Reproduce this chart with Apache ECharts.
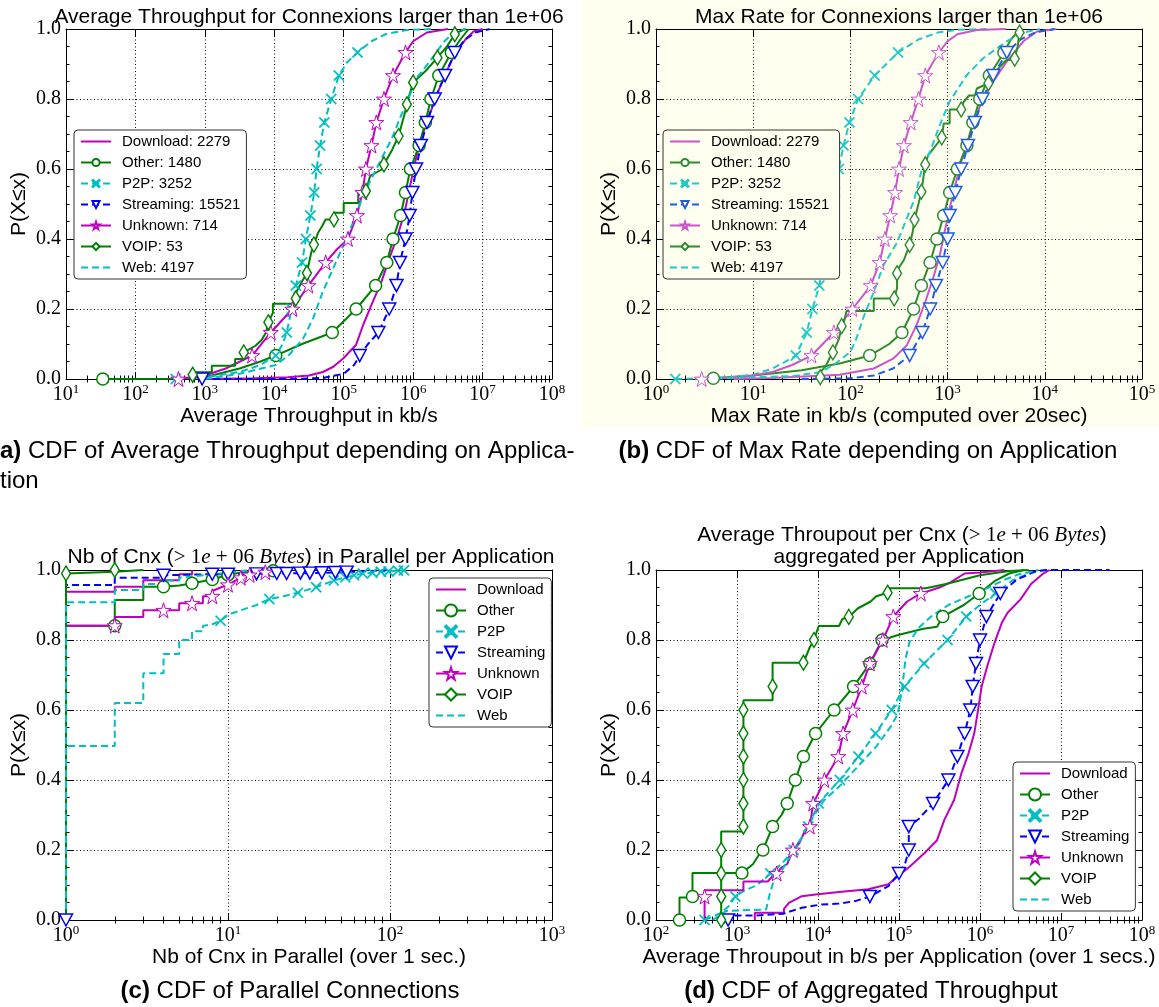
<!DOCTYPE html>
<html><head><meta charset="utf-8">
<script src="https://cdn.jsdelivr.net/npm/echarts@6/dist/echarts.min.js"></script>
<style>html,body{margin:0;padding:0;background:#fff}#c{width:1159px;height:1007px}</style>
</head><body><div id="c"></div>
<script>
// ---------------- DATA ----------------
const NAMES_AB = ['Download: 2279','Other: 1480','P2P: 3252','Streaming: 15521','Unknown: 714','VOIP: 53','Web: 4197'];
const NAMES_CD = ['Download','Other','P2P','Streaming','Unknown','VOIP','Web'];
const X_RANGE_A = [1e1, 1e8], X_RANGE_B = [1e0, 1e5], X_RANGE_C = [1e0, 1e3], X_RANGE_D = [1e2, 1e8];
const Y_TICKS = [0, 0.2, 0.4, 0.6, 0.8, 1.0];

// Panel (a): Average Throughput (kb/s)
const A_DOWNLOAD = [[1e3,0],[5.01e3,0.002],[1.58e4,0.005],[3.16e4,0.01],[5.01e4,0.02],[7.08e4,0.035],[1e5,0.06],[1.51e5,0.098],[1.91e5,0.155],[2.51e5,0.212],[3.51e5,0.279],[4.57e5,0.346],[6.03e5,0.412],[7.59e5,0.479],[8.91e5,0.546],[1.05e6,0.612],[1.26e6,0.679],[1.66e6,0.746],[2.19e6,0.812],[3.02e6,0.879],[4.17e6,0.936],[5.89e6,0.974],[7.41e6,0.993],[1e7,1.0]];
const A_OTHER = [[316,0.001],[1e3,0.005],[3.16e3,0.03],[6.31e3,0.05],[2.51e4,0.1],[4.79e6,0.97],[6.31e6,1.0]];
const A_OTHER_MK = [[33.9,0],[1.05e4,0.067],[6.84e4,0.133],[1.51e5,0.2],[2.88e5,0.267],[4.17e5,0.333],[5.13e5,0.4],[6.61e5,0.467],[7.76e5,0.533],[9.12e5,0.6],[1.22e6,0.667],[1.5e6,0.733],[1.8e6,0.8],[2.34e6,0.867],[3.55e6,0.933]];
const A_P2P = [[1e3,0.005],[3.16e3,0.02],[6.31e3,0.04],[1.32e4,0.1],[1.12e5,0.905],[2.51e5,0.965],[3.98e5,0.985],[7.94e5,0.997],[2e6,1.0]];
const A_P2P_MK = [[380,0],[1.05e4,0.067],[1.51e4,0.133],[1.78e4,0.2],[2.04e4,0.267],[2.51e4,0.333],[2.85e4,0.4],[3.31e4,0.467],[3.76e4,0.533],[4.07e4,0.6],[4.57e4,0.667],[5.25e4,0.733],[6.61e4,0.8],[8.51e4,0.867],[1.58e5,0.933]];
const A_STREAM = [[2e4,0],[5.01e4,0.003],[1e5,0.015],[1.41e5,0.04],[2.24e5,0.1],[5.62e6,0.97],[7.94e6,0.99],[1.26e7,1.0]];
const A_STREAM_MK = [[912,0],[1.7e5,0.067],[3.16e5,0.133],[4.52e5,0.2],[5.75e5,0.267],[6.46e5,0.333],[7.76e5,0.4],[8.91e5,0.467],[9.77e5,0.533],[1.1e6,0.6],[1.29e6,0.667],[1.58e6,0.733],[2.04e6,0.8],[2.88e6,0.867],[3.98e6,0.933]];
const A_UNKNOWN = [[1e3,0.01],[2e3,0.03],[7.94e4,0.37],[1e6,0.965],[1.58e6,0.99],[3.16e6,1.0]];
const A_UNKNOWN_MK = [[417,0],[4.79e3,0.067],[8.91e3,0.133],[1.82e4,0.2],[3.09e4,0.267],[5.5e4,0.333],[1.15e5,0.4],[1.55e5,0.467],[1.86e5,0.533],[2.09e5,0.6],[2.51e5,0.667],[2.95e5,0.733],[3.8e5,0.8],[5.13e5,0.867],[7.76e5,0.933]];
const A_VOIP = [[667,0],[667,0.019],[1260,0.019],[1260,0.038],[2730,0.038],[2730,0.057],[3630,0.057],[3630,0.076],[5370,0.095],[6610,0.112],[7590,0.133],[8220,0.162],[9550,0.189],[9550,0.215],[2.04e4,0.215],[2.04e4,0.246],[2.45e4,0.275],[2.95e4,0.303],[3.39e4,0.36],[3.72e4,0.384],[4.27e4,0.418],[4.9e4,0.437],[5.5e4,0.456],[7.24e4,0.456],[7.24e4,0.475],[1e5,0.475],[1e5,0.503],[1.62e5,0.503],[1.62e5,0.537],[2.09e5,0.537],[2.4e5,0.58],[3.63e5,0.6],[3.89e5,0.618],[5.01e5,0.656],[6.17e5,0.694],[7.59e5,0.76],[8.71e5,0.808],[1e6,0.847],[1.51e6,0.88],[2.24e6,0.918],[3.09e6,0.951],[4.27e6,0.99],[5.75e6,1.0]];
const A_VOIP_MK = [[667,0.012],[3630,0.076],[8220,0.162],[2.04e4,0.23],[2.95e4,0.303],[3.72e4,0.384],[7.24e4,0.456],[2.09e5,0.537],[3.8e5,0.613],[6.17e5,0.694],[8.13e5,0.785],[1e6,0.847],[2.24e6,0.918],[3.98e6,0.985]];
const A_WEB = [[1e3,0],[3.16e3,0.015],[1.05e4,0.04],[1.66e4,0.07],[2.63e4,0.117],[3.63e4,0.174],[5.01e4,0.25],[7.08e4,0.317],[1e5,0.384],[1.38e5,0.45],[1.78e5,0.508],[2.4e5,0.565],[2.95e5,0.6],[5.01e5,0.69],[6.61e5,0.75],[8.51e5,0.8],[1.12e6,0.86],[1.7e6,0.905],[2.82e6,0.965],[3.98e6,0.993],[5.62e6,1.0]];

// Panel (b): Max Rate (kb/s)
const B_DOWNLOAD = [[6.31,0],[15.8,0.003],[77.6,0.012],[174,0.03],[275,0.058],[380,0.096],[479,0.154],[589,0.22],[708,0.287],[832,0.354],[933,0.421],[1050,0.488],[1200,0.554],[1380,0.621],[1620,0.683],[1910,0.74],[2240,0.793],[2950,0.85],[4070,0.907],[6030,0.965],[8320,0.993],[1.32e4,1.0]];
const B_OTHER = [[2.51,0],[10,0.01],[31.6,0.025],[79.4,0.045],[251,0.1],[4470,0.97],[5620,1.0]];
const B_OTHER_MK = [[3.89,0.002],[158,0.067],[339,0.133],[447,0.2],[537,0.267],[661,0.333],[776,0.4],[912,0.467],[1050,0.533],[1260,0.6],[1580,0.667],[1820,0.733],[2140,0.8],[2690,0.867],[3800,0.933]];
const B_P2P = [[3.16,0.002],[6.31,0.006],[10,0.012],[15.8,0.03],[20,0.045],[501,0.97],[794,0.99],[1260,0.998],[2510,1.0]];
const B_P2P_MK = [[1.58,0],[27.5,0.067],[35.5,0.133],[40.7,0.2],[47.9,0.267],[52.5,0.333],[57.5,0.4],[63.1,0.467],[69.2,0.533],[75.9,0.6],[85.1,0.667],[97.7,0.733],[120,0.8],[178,0.867],[309,0.933]];
const B_STREAM = [[31.6,0],[100,0.002],[174,0.01],[275,0.03],[5620,0.97],[7940,0.99],[1.26e4,1.0]];
const B_STREAM_MK = [[407,0.067],[550,0.133],[661,0.2],[759,0.267],[891,0.333],[1000,0.4],[1050,0.467],[1200,0.533],[1380,0.6],[1620,0.667],[1910,0.733],[2290,0.8],[2950,0.867],[4070,0.933]];
const B_UNKNOWN = [[7.94,0.005],[15.8,0.02],[25.1,0.04],[1000,0.965],[1260,0.985],[2000,0.997],[3980,1.0]];
const B_UNKNOWN_MK = [[2.95,0],[39.8,0.067],[67.6,0.133],[105,0.2],[162,0.267],[200,0.333],[226,0.4],[257,0.467],[288,0.533],[316,0.6],[355,0.667],[417,0.733],[501,0.8],[589,0.867],[813,0.933]];
const B_VOIP = [[49,0],[49,0.019],[56.2,0.038],[60.3,0.057],[66.1,0.076],[70.8,0.094],[75.9,0.113],[81.3,0.15],[87.1,0.17],[91.2,0.194],[174,0.194],[174,0.23],[282,0.23],[302,0.26],[302,0.31],[355,0.34],[407,0.383],[437,0.42],[457,0.455],[501,0.5],[537,0.535],[589,0.613],[631,0.64],[724,0.66],[871,0.69],[912,0.73],[1050,0.73],[1050,0.77],[1380,0.77],[1450,0.79],[1660,0.81],[1910,0.81],[2000,0.83],[2630,0.845],[3160,0.88],[3980,0.91],[4900,0.915],[5250,0.95],[5500,0.99],[5750,1.0]];
const B_VOIP_MK = [[49,0.005],[66.1,0.076],[81.3,0.151],[282,0.23],[302,0.302],[407,0.383],[457,0.455],[537,0.535],[589,0.613],[871,0.69],[1380,0.77],[2630,0.845],[4900,0.915],[5500,0.99]];
const B_WEB = [[3.16,0],[10,0.005],[25.1,0.008],[50.1,0.02],[70.8,0.045],[100,0.077],[115,0.115],[135,0.173],[174,0.249],[219,0.325],[302,0.39],[380,0.459],[447,0.507],[537,0.593],[661,0.65],[832,0.726],[1050,0.793],[1580,0.869],[2340,0.917],[4070,0.965],[6030,0.99],[8910,1.0]];

// Panel (c): Nb of Cnx in parallel
const C_DOWNLOAD = [[1,0],[1,0.938],[2,0.938],[2,0.952],[3,0.952],[3,0.971],[5,0.971],[5,0.988],[6,0.988],[6,1.0]];
const C_OTHER = [[1,0],[1,0.841],[2,0.841],[2,0.914],[3,0.914],[3,0.952],[5,0.956],[7,0.968],[9,0.98],[12,0.993],[15,0.996],[20,1.0]];
const C_OTHER_MK = [[2,0.841],[4,0.952],[6,0.962],[8,0.973],[10,0.986],[19,0.998]];
const C_P2P = [[1,0],[1,0.497],[2,0.497],[2,0.62],[3,0.62],[3,0.705],[4,0.705],[4,0.76],[5,0.76],[5,0.8],[6,0.8],[6,0.825],[7,0.825],[7,0.84],[8,0.845],[10,0.872],[12,0.885],[15,0.9],[22,0.925],[55,0.98],[65,0.988],[80,0.993],[100,0.997],[125,1.0]];
const C_P2P_MK = [[9,0.855],[18,0.917],[27,0.935],[35,0.951],[45,0.97],[53,0.979],[60,0.985],[68,0.99],[78,0.992],[88,0.995],[98,0.996],[112,0.998],[122,0.999]];
const C_STREAM = [[1,0],[1,0.957],[2,0.957],[2,0.978],[4,0.978],[4,0.986],[8,0.988],[20,0.99],[60,0.995],[100,1.0]];
const C_STREAM_MK = [[1,0],[4,0.985],[8,0.988],[10,0.988],[15,0.989],[20,0.99],[23,0.99],[28,0.991],[32,0.991],[38,0.992],[46,0.993],[54,0.994]];
const C_UNKNOWN = [[1,0],[1,0.841],[2,0.841],[2,0.866],[3,0.866],[3,0.885],[5,0.885],[5,0.905],[7,0.905],[7,0.925],[8,0.925],[8,0.94],[9,0.95],[10,0.96],[12,0.978],[14,0.988],[18,0.995],[22,1.0]];
const C_UNKNOWN_MK = [[2,0.841],[4,0.885],[6,0.905],[8,0.925],[10,0.958],[12,0.978],[13.6,0.986],[17,0.994]];
const C_VOIP = [[1,0],[1,0.995],[2,0.995],[2,1.0],[3,1.0]];
const C_VOIP_MK = [[1,0.99],[2,1.0]];
const C_WEB = [[1,0],[1,0.908],[2,0.908],[2,0.943],[3,0.943],[3,0.96],[4,0.96],[4,0.97],[5,0.97],[5,0.978],[7,0.985],[9,0.99],[12,0.997],[15,1.0]];

// Panel (d): Aggregated throughput (b/s)
const D_DOWNLOAD = [[1660,0],[1660,0.021],[3800,0.021],[3800,0.032],[4370,0.049],[5010,0.056],[6310,0.068],[9330,0.073],[1.82e4,0.08],[4.17e4,0.088],[7.41e4,0.102],[1e5,0.128],[1.35e5,0.152],[2.04e5,0.19],[2.95e5,0.228],[3.63e5,0.286],[4.79e5,0.343],[5.89e5,0.419],[7.24e5,0.477],[8.51e5,0.534],[9.33e5,0.591],[1.05e6,0.668],[1.23e6,0.725],[1.51e6,0.792],[1.86e6,0.849],[2.19e6,0.878],[3.16e6,0.916],[4.27e6,0.96],[5.89e6,0.988],[7.24e6,1.0]];
const D_OTHER = [[195,0.064],[282,0.064],[282,0.134],[1580,0.16],[1910,0.19],[3550,0.3],[1e5,0.815],[2e5,0.832],[2.95e5,0.838],[6.31e5,0.9],[1.51e6,0.968],[2.29e6,0.99],[3.47e6,1.0]];
const D_OTHER_MK = [[195,0],[282,0.067],[1150,0.134],[2090,0.2],[2750,0.267],[4170,0.333],[5250,0.4],[6610,0.467],[9330,0.533],[1.58e4,0.6],[2.75e4,0.667],[4.37e4,0.733],[6.17e4,0.8],[3.47e5,0.867],[9.77e5,0.933]];
const D_P2P = [[631,0.02],[794,0.04],[1260,0.085],[1780,0.1],[3550,0.16],[1.41e4,0.37],[1e6,0.9],[2.51e6,0.97],[3.98e6,0.99],[6.31e6,1.0]];
const D_P2P_MK = [[398,0],[955,0.067],[2570,0.133],[5010,0.2],[7590,0.267],[1.02e4,0.333],[1.86e4,0.4],[3.16e4,0.467],[5.13e4,0.533],[8.13e4,0.6],[1.17e5,0.667],[2.04e5,0.733],[3.98e5,0.8],[6.76e5,0.867],[1.55e6,0.933]];
const D_STREAM = [[776,0.013],[1700,0.013],[3720,0.018],[6310,0.035],[1.07e4,0.044],[1.82e4,0.047],[2.88e4,0.054],[7.41e4,0.097],[1.2e5,0.164],[1.74e5,0.288],[2.82e6,0.972],[4.79e6,0.996],[6.61e6,1.0],[3.98e7,1.0]];
const D_STREAM_MK = [[776,0],[4.37e4,0.067],[1e5,0.133],[1.32e5,0.2],[1.32e5,0.267],[2.63e5,0.333],[4.07e5,0.4],[5.25e5,0.467],[6.46e5,0.533],[7.59e5,0.6],[8.13e5,0.667],[8.91e5,0.733],[1e6,0.8],[1.2e6,0.867],[1.78e6,0.933]];
const D_UNKNOWN = [[398,0],[398,0.085],[1200,0.085],[1200,0.11],[2400,0.11],[2750,0.125],[3550,0.15],[4170,0.16],[5890,0.22],[6760,0.25],[1e4,0.36],[1.26e5,0.91],[3.16e5,0.95],[4.27e5,0.964],[6.46e5,0.99],[1e6,0.993],[2e6,1.0]];
const D_UNKNOWN_MK = [[398,0.067],[3090,0.133],[4900,0.2],[7940,0.267],[8710,0.333],[1.2e4,0.4],[1.78e4,0.467],[2.04e4,0.533],[2.69e4,0.6],[3.47e4,0.667],[4.37e4,0.733],[6.31e4,0.8],[8.51e4,0.867],[1.86e5,0.933]];
const D_VOIP = [[638,0],[638,0.253],[1200,0.253],[1200,0.628],[2750,0.628],[2750,0.735],[6610,0.735],[7940,0.78],[8910,0.8],[1.02e4,0.84],[1.82e4,0.84],[2e4,0.86],[2.4e4,0.866],[3.09e4,0.89],[4.47e4,0.91],[5.25e4,0.925],[7.24e4,0.935],[7.59e4,0.948],[2.14e5,0.948],[3.8e5,0.96],[1e6,0.985],[2.29e6,0.997],[3.98e6,1.0]];
const D_VOIP_MK = [[638,0],[638,0.067],[638,0.133],[638,0.2],[1200,0.267],[1200,0.333],[1200,0.4],[1200,0.467],[1200,0.533],[1200,0.6],[2750,0.667],[6610,0.735],[8910,0.8],[2.4e4,0.866],[7.24e4,0.935]];
const D_WEB = [[501,0],[741,0.026],[2290,0.03],[2510,0.07],[2820,0.11],[3550,0.14],[4470,0.18],[5750,0.22],[8710,0.295],[1.2e4,0.343],[1.82e4,0.381],[3.09e4,0.438],[5.25e4,0.496],[7.94e4,0.553],[9.77e4,0.591],[1.1e5,0.668],[1.2e5,0.744],[1.35e5,0.795],[1.74e5,0.834],[2.51e5,0.868],[4.07e5,0.9],[7.24e5,0.925],[1.26e6,0.949],[2.04e6,0.973],[2.95e6,0.987],[5.25e6,1.0]];

// ---------------- STYLE / BUILD ----------------
const SERIF = '"Liberation Serif", "Times New Roman", serif';
const SANS = '"Liberation Sans", Arial, Helvetica, sans-serif';
const PAL_STD = {m:'#bf00bf', g:'#008000', c:'#00bfbf', b:'#0000ff'};
const PAL_B = {m:'#cc55cc', g:'#2e8b2e', c:'#20c8c8', b:'#1f5ce6'};
const SYM_X = 'path://M1,0 L5,4 L9,0 L10,1 L6,5 L10,9 L9,10 L5,6 L1,10 L0,9 L4,5 L0,1 Z';
const SYM_TRI = 'path://M0,0 L10,0 L5,9 Z';
const SYM_STAR = 'path://M50,2 L61,37 L98,37 L68,59 L79,95 L50,73 L21,95 L32,59 L2,37 L39,37 Z';
const STYLE = [
  {c:'m', dash:false, sym:'none'},
  {c:'g', dash:false, sym:'circle', size:12, hollow:true, bw:1.5},
  {c:'c', dash:true, sym:SYM_X, size:11, hollow:false},
  {c:'b', dash:true, sym:SYM_TRI, size:[13,12], hollow:true, bw:1.5},
  {c:'m', dash:false, sym:SYM_STAR, size:15, hollow:true, bw:1},
  {c:'g', dash:false, sym:'diamond', size:[9,15], hollow:true, bw:1.5},
  {c:'c', dash:true, sym:'none'}
];

function merge(curve, marks) {
  const pts = curve.map(p => [p[0], p[1], 0]).concat((marks || []).map(p => [p[0], p[1], 1]));
  pts.sort((a, b) => (a[1] - b[1]) || (a[0] - b[0]) || (a[2] - b[2]));
  return pts.map(p => p[2] ? {value: [p[0], p[1]]} : {value: [p[0], p[1]], symbol: 'none'});
}

function minorTicks(lo, hi) {
  const out = [];
  for (let e = Math.round(Math.log10(lo)); e < Math.round(Math.log10(hi)); e++)
    for (let k = 2; k <= 9; k++) out.push(k * Math.pow(10, e));
  return out;
}

const xLabel = {
  formatter: v => '{b|10}{s|' + Math.round(Math.log10(v)) + '}',
  margin: 4,
  rich: {
    b: {fontFamily: SERIF, fontSize: 20, color: '#000', verticalAlign: 'bottom'},
    s: {fontFamily: SERIF, fontSize: 13, color: '#000', verticalAlign: 'bottom', padding: [0, 0, 9, 0]}
  }
};
const dotted = {color: '#000', type: [1, 2.5], width: 1};

const GRIDS = [
  {left: 66, top: 29, width: 486, height: 350},
  {left: 656, top: 29, width: 486, height: 350},
  {left: 66, top: 570, width: 486, height: 350},
  {left: 656, top: 570, width: 486, height: 350}
];
const xAxes = [], yAxes = [], series = [];

function addAxes(gi, range, xname) {
  const xi = xAxes.length;
  const base = {gridIndex: gi, type: 'log', logBase: 10, min: range[0], max: range[1]};
  xAxes.push(Object.assign({}, base, {
    position: 'bottom',
    axisLine: {onZero: false, lineStyle: {color: '#000', width: 1}},
    axisTick: {inside: true, length: 7, lineStyle: {color: '#000'}},
    axisLabel: xLabel,
    splitLine: {show: true, lineStyle: dotted},
    name: xname, nameLocation: 'middle', nameGap: 23,
    nameTextStyle: {fontFamily: SANS, fontSize: 21, color: '#000'}
  }));
  xAxes.push(Object.assign({}, base, {
    position: 'top',
    axisLine: {onZero: false, lineStyle: {color: '#000', width: 1}},
    axisTick: {inside: true, length: 7, lineStyle: {color: '#000'}},
    axisLabel: {show: false}, splitLine: {show: false}
  }));
  const mv = minorTicks(range[0], range[1]);
  ['bottom', 'top'].forEach(pos => xAxes.push(Object.assign({}, base, {
    position: pos, axisLine: {show: false},
    axisTick: {inside: true, length: 3.5, customValues: mv, lineStyle: {color: '#000'}},
    axisLabel: {show: false}, splitLine: {show: false}
  })));
  const yi = yAxes.length;
  yAxes.push({
    gridIndex: gi, type: 'value', min: Y_TICKS[0], max: Y_TICKS[Y_TICKS.length - 1], interval: 0.2, position: 'left',
    axisLine: {show: true, onZero: false, lineStyle: {color: '#000'}},
    axisTick: {show: true, inside: true, length: 7, lineStyle: {color: '#000'}},
    minorTick: {show: true, splitNumber: 4, length: 3.5, lineStyle: {color: '#000'}},
    axisLabel: {formatter: v => v.toFixed(1), fontFamily: SERIF, fontSize: 20, color: '#000', margin: 5},
    splitLine: {show: true, lineStyle: dotted},
    name: 'P(X≤x)', nameLocation: 'middle', nameGap: 36,
    nameTextStyle: {fontFamily: SANS, fontSize: 21, color: '#000'}
  });
  yAxes.push({
    gridIndex: gi, type: 'value', min: 0, max: 1, interval: 0.2, position: 'right',
    axisLine: {show: true, onZero: false, lineStyle: {color: '#000'}},
    axisTick: {show: true, inside: true, length: 7, lineStyle: {color: '#000'}},
    minorTick: {show: true, splitNumber: 4, length: 3.5, lineStyle: {color: '#000'}},
    axisLabel: {show: false}, splitLine: {show: false}
  });
  return [xi, yi];
}

function addPanel(gi, range, xname, names, curves, marks, pal) {
  const [xi, yi] = addAxes(gi, range, xname);
  names.forEach((name, i) => {
    const st = STYLE[i];
    const col = pal[st.c];
    let itemStyle;
    if (st.sym === 'none') itemStyle = {color: 'rgba(0,0,0,0)', borderColor: 'rgba(0,0,0,0)', borderWidth: 0};
    else if (st.hollow) itemStyle = {color: '#fff', borderColor: col, borderWidth: st.bw};
    else itemStyle = {color: col, borderColor: col, borderWidth: 0.3};
    series.push({
      type: 'line', name, xAxisIndex: xi, yAxisIndex: yi,
      data: merge(curves[i], marks[i]),
      symbol: st.sym, symbolSize: st.size || 10, showSymbol: true,
      lineStyle: {color: col, width: 2, type: st.dash ? [7, 4] : 'solid'},
      itemStyle,
      emphasis: {disabled: true}, animation: false, silent: true
    });
  });
}

const NAMES_B = NAMES_AB.map(n => n + ' ');
addPanel(0, X_RANGE_A, 'Average Throughput in kb/s', NAMES_AB,
  [A_DOWNLOAD, A_OTHER, A_P2P, A_STREAM, A_UNKNOWN, A_VOIP, A_WEB],
  [[], A_OTHER_MK, A_P2P_MK, A_STREAM_MK, A_UNKNOWN_MK, A_VOIP_MK, []], PAL_STD);
addPanel(1, X_RANGE_B, 'Max Rate in kb/s (computed over 20sec)', NAMES_B,
  [B_DOWNLOAD, B_OTHER, B_P2P, B_STREAM, B_UNKNOWN, B_VOIP, B_WEB],
  [[], B_OTHER_MK, B_P2P_MK, B_STREAM_MK, B_UNKNOWN_MK, B_VOIP_MK, []], PAL_B);
addPanel(2, X_RANGE_C, 'Nb of Cnx in Parallel (over 1 sec.)', NAMES_CD,
  [C_DOWNLOAD, C_OTHER, C_P2P, C_STREAM, C_UNKNOWN, C_VOIP, C_WEB],
  [[], C_OTHER_MK, C_P2P_MK, C_STREAM_MK, C_UNKNOWN_MK, C_VOIP_MK, []], PAL_STD);
addPanel(3, X_RANGE_D, 'Average Throupout in b/s per Application (over 1 secs.)', NAMES_CD,
  [D_DOWNLOAD, D_OTHER, D_P2P, D_STREAM, D_UNKNOWN, D_VOIP, D_WEB],
  [[], D_OTHER_MK, D_P2P_MK, D_STREAM_MK, D_UNKNOWN_MK, D_VOIP_MK, []], PAL_STD);

function legend(names, left, top, itemH, bg) {
  return {
    orient: 'vertical', left, top, data: names, selectedMode: false,
    itemWidth: 30, itemHeight: itemH, itemGap: 21 - Math.max(itemH, 15),
    padding: [4, 6, 4, 6], backgroundColor: bg, borderColor: '#333', borderWidth: 1, borderRadius: 4,
    textStyle: {fontFamily: SANS, fontSize: 15, color: '#000', lineHeight: 15, padding: [0, 0, 0, 6]}
  };
}

const txt = (x, y, text, size, align, extra) => ({
  type: 'text', x, y, silent: true,
  style: Object.assign({text, fill: '#000', fontFamily: SANS, fontSize: size, textAlign: align || 'center', textVerticalAlign: 'middle'}, extra || {})
});
const mathRich = {
  n: {fontFamily: SANS, fontSize: 21, color: '#000'},
  m: {fontFamily: SERIF, fontSize: 21, color: '#000'},
  i: {fontFamily: SERIF, fontSize: 21, fontStyle: 'italic', color: '#000'}
};
const capRich = {
  b: {fontFamily: SANS, fontSize: 24, fontWeight: 'bold', color: '#000'},
  n: {fontFamily: SANS, fontSize: 24, color: '#000'}
};

const option = {
  backgroundColor: '#fff',
  animation: false,
  grid: GRIDS.map(g => Object.assign({show: false}, g)),
  xAxis: xAxes,
  yAxis: yAxes,
  legend: [
    legend(NAMES_AB, 74, 130, 9, '#fff'),
    legend(NAMES_B, 663, 130, 9, '#fffff0'),
    legend(NAMES_CD, 429, 578, 15, '#fff'),
    legend(NAMES_CD, 1013, 762, 15, '#fff')
  ],
  graphic: [
    {type: 'rect', shape: {x: 582, y: 0, width: 577, height: 427}, style: {fill: '#fffff0'}, z: -100, silent: true},
    txt(309, 17, 'Average Throughput for Connexions larger than 1e+06', 21),
    txt(899, 17, 'Max Rate for Connexions larger than 1e+06', 21),
    txt(311, 557, '{n|Nb of Cnx (}{m|> 1}{i|e}{m| + 06 }{i|Bytes}{n|) in Parallel per Application}', 21, 'center', {rich: mathRich}),
    txt(902, 535, '{n|Average Throupout per Cnx (}{m|> 1}{i|e}{m| + 06 }{i|Bytes}{n|)}', 21, 'center', {rich: mathRich}),
    txt(899, 557, 'aggregated per Application', 21),
    txt(-8, 451, '{b|(a)}{n| CDF of Average Throughput depending on Applica-}', 24, 'left', {rich: capRich}),
    txt(0, 481, 'tion', 24, 'left'),
    txt(868, 451, '{b|(b)}{n| CDF of Max Rate depending on Application}', 24, 'center', {rich: capRich}),
    txt(290, 991, '{b|(c)}{n| CDF of Parallel Connections}', 24, 'center', {rich: capRich}),
    txt(871, 991, '{b|(d)}{n| CDF of Aggregated Throughput}', 24, 'center', {rich: capRich})
  ],
  series
};

const chart = echarts.init(document.getElementById('c'), null, {renderer: 'canvas', width: 1159, height: 1007});
chart.setOption(option);
</script></body></html>
